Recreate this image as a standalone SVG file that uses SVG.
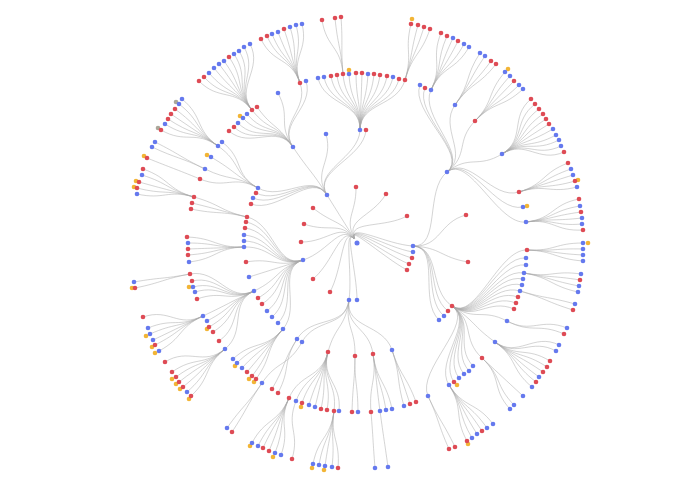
<svg xmlns="http://www.w3.org/2000/svg" width="695" height="494" viewBox="0 0 695 494">
<style>
#links path{fill:none;stroke:#a8a8a8;stroke-opacity:.55;stroke-width:.9}
circle{stroke:none}
.r{fill:#de4b55}.b{fill:#6579ee}.y{fill:#f2b536}.g{fill:#aba89a}
</style>
<rect width="695" height="494" fill="#fff"/>
<g id="links">
<path d="M357,243C342,219 356.5,215 356,187"/><path d="M357,243C342,219 371.5,218.5 386,194"/><path d="M357,243C342,219 382,229.5 407,216"/><path d="M357,243C342,219 335,225.5 313,208"/><path d="M357,243C342,219 330.5,233.5 304,224"/><path d="M357,243C342,219 329,242.5 301,242"/><path d="M357,243C342,219 335,261 313,279"/><path d="M357,243C342,219 343.5,267.5 330,292"/><path d="M357,243C342,219 353,271.5 349,300"/><path d="M357,243C342,219 357,271.5 357,300"/><path d="M357,243C342,219 385,244.5 413,246"/><path d="M357,243C342,219 385,247.5 413,252"/><path d="M357,243C342,219 384.5,250.5 412,258"/><path d="M357,243C342,219 383,253.5 409,264"/><path d="M357,243C342,219 382,256.5 407,270"/><path d="M357,243C342,219 330,251.5 303,260"/><path d="M357,243C342,219 342,219 327,195"/>
<path d="M327,195C312,171 359,158 360,130"/><path d="M327,195C312,171 363.8,158.3 366,130"/><path d="M327,195C312,171 333.8,161.3 326,134"/><path d="M327,195C312,171 309,171 293,147"/><path d="M327,195C312,171 282.8,201.8 258,188"/><path d="M327,195C312,171 281.3,205.5 256,193"/><path d="M327,195C312,171 279,209.3 253,198"/><path d="M327,195C312,171 277.5,213.8 251,204"/>
<path d="M303,260C276,268.5 274.5,223.5 247,217"/><path d="M303,260C276,268.5 273.8,227.3 246,222"/><path d="M303,260C276,268.5 273,231.8 245,228"/><path d="M303,260C276,268.5 272.3,237 244,235"/><path d="M303,260C276,268.5 272.3,241.5 244,241"/><path d="M303,260C276,268.5 272.3,246 244,247"/><path d="M303,260C276,268.5 273.8,257.3 246,262"/><path d="M303,260C276,268.5 276,268.5 249,277"/><path d="M303,260C276,268.5 279.8,279 254,291"/><path d="M303,260C276,268.5 282.8,284.3 258,298"/><path d="M303,260C276,268.5 285.8,288.8 262,304"/><path d="M303,260C276,268.5 289.5,294 267,311"/><path d="M303,260C276,268.5 293.3,298.5 272,317"/><path d="M303,260C276,268.5 297.8,303 278,323"/><path d="M303,260C276,268.5 301.5,307.5 283,329"/>
<path d="M413,246C441,247.5 424.5,189.8 447,172"/><path d="M413,246C441,247.5 438.8,222 466,215"/><path d="M413,246C441,247.5 440.3,257.3 468,262"/><path d="M413,246C441,247.5 428.3,290.3 452,306"/><path d="M413,246C441,247.5 425.3,294 448,311"/><path d="M413,246C441,247.5 422.3,297.8 444,316"/><path d="M413,246C441,247.5 418.5,300.8 439,320"/>
<path d="M349,300C345,328.5 312,315 297,339"/><path d="M349,300C345,328.5 315.8,317.3 302,342"/><path d="M349,300C345,328.5 335.3,324.8 328,352"/><path d="M349,300C345,328.5 355.5,327.8 355,356"/><path d="M349,300C345,328.5 369,326.3 373,354"/><path d="M349,300C345,328.5 383.3,323.3 392,350"/>
<path d="M360,130C360.8,101.8 324.5,105.5 318,78"/><path d="M360,130C360.8,101.8 329.5,104.7 324,77"/><path d="M360,130C360.8,101.8 335.3,103.8 331,76"/><path d="M360,130C360.8,101.8 340.3,103 337,75"/><path d="M360,130C360.8,101.8 345.3,102.2 343,74"/><path d="M360,130C360.8,101.8 350.3,102.2 349,74"/><path d="M360,130C360.8,101.8 356.2,101.3 356,73"/><path d="M360,130C360.8,101.8 361.2,101.3 362,73"/><path d="M360,130C360.8,101.8 366.2,102.2 368,74"/><path d="M360,130C360.8,101.8 371.2,102.2 374,74"/><path d="M360,130C360.8,101.8 376.2,103 380,75"/><path d="M360,130C360.8,101.8 382,103.8 387,76"/><path d="M360,130C360.8,101.8 387,104.7 393,77"/><path d="M360,130C360.8,101.8 392,106.3 399,79"/><path d="M360,130C360.8,101.8 397,107.2 405,80"/>
<path d="M293,147C277,123 250.3,149.7 229,131"/><path d="M293,147C277,123 254.5,146.3 234,127"/><path d="M293,147C277,123 257.8,143 238,123"/><path d="M293,147C277,123 262,138.8 243,118"/><path d="M293,147C277,123 265.3,135.5 247,114"/><path d="M293,147C277,123 269.5,132.2 252,110"/><path d="M293,147C277,123 273.7,129.7 257,107"/><path d="M293,147C277,123 291.2,118 278,93"/><path d="M293,147C277,123 309.5,109.7 300,83"/><path d="M293,147C277,123 314.5,108 306,81"/>
<path d="M258,188C233.3,174.3 241.2,162.2 218,146"/><path d="M258,188C233.3,174.3 244.5,158.8 222,142"/><path d="M258,188C233.3,174.3 235.3,171.3 211,157"/><path d="M258,188C233.3,174.3 230.3,181.3 205,169"/><path d="M258,188C233.3,174.3 226.2,189.7 200,179"/>
<path d="M247,217C219.5,210.5 221.2,204.7 194,197"/><path d="M247,217C219.5,210.5 219.5,209.7 192,203"/><path d="M247,217C219.5,210.5 218.7,214.7 191,209"/>
<path d="M244,247C215.8,248 215.3,238 187,237"/><path d="M244,247C215.8,248 216.2,243 188,243"/><path d="M244,247C215.8,248 216.2,248 188,249"/><path d="M244,247C215.8,248 216.2,253 188,255"/><path d="M244,247C215.8,248 217,258.8 189,262"/>
<path d="M254,291C228.3,303 217.8,268.8 190,274"/><path d="M254,291C228.3,303 219.5,274.7 192,281"/><path d="M254,291C228.3,303 220.3,279.7 193,287"/><path d="M254,291C228.3,303 222,283.8 195,292"/><path d="M254,291C228.3,303 223.7,289.7 197,299"/><path d="M254,291C228.3,303 228.7,303.8 203,316"/><path d="M254,291C228.3,303 232,308 207,321"/><path d="M254,291C228.3,303 233.7,313 209,327"/><path d="M254,291C228.3,303 237,317.2 213,332"/><path d="M254,291C228.3,303 242,324.7 219,341"/><path d="M254,291C228.3,303 247,331.3 225,349"/>
<path d="M283,329C264.5,350.5 253.7,339.7 233,359"/><path d="M283,329C264.5,350.5 257,343 237,363"/><path d="M283,329C264.5,350.5 261.2,347.2 242,368"/><path d="M283,329C264.5,350.5 265.3,350.5 247,372"/><path d="M283,329C264.5,350.5 269.5,353.8 252,376"/><path d="M283,329C264.5,350.5 272.8,356.3 256,379"/>
<path d="M297,339C282,363 286.2,364.7 272,389"/><path d="M297,339C282,363 291.2,368 278,393"/><path d="M302,342C288.3,366.8 277.8,359.7 262,383"/><path d="M262,383C246.2,406.3 243.3,404.9 227,428"/><path d="M262,383C246.2,406.3 247.6,408.4 232,432"/>
<path d="M328,352C320.8,379.3 300.3,372.2 289,398"/><path d="M328,352C320.8,379.3 306.2,374.7 296,401"/><path d="M328,352C320.8,379.3 311.2,376.3 302,403"/><path d="M328,352C320.8,379.3 317,378 309,405"/><path d="M328,352C320.8,379.3 322,379.7 315,407"/><path d="M328,352C320.8,379.3 327,381.3 321,409"/><path d="M328,352C320.8,379.3 332,382.2 327,410"/><path d="M328,352C320.8,379.3 337.8,383 334,411"/><path d="M328,352C320.8,379.3 342,383 339,411"/>
<path d="M355,356C354.5,384.3 352.8,383.8 352,412"/><path d="M355,356C354.5,384.3 357.8,383.8 358,412"/>
<path d="M373,354C377,381.8 368.7,383.8 371,412"/><path d="M373,354C377,381.8 376.2,383 380,411"/><path d="M373,354C377,381.8 381.2,382.2 386,410"/><path d="M373,354C377,381.8 386.2,381.3 392,409"/><path d="M371,412C373.3,440.2 372.8,439.9 375,468"/><path d="M380,411C383.8,439 384.1,439 388,467"/>
<path d="M392,350C400.8,376.8 396.2,378.8 404,406"/><path d="M392,350C400.8,376.8 401.2,377.2 410,404"/><path d="M392,350C400.8,376.8 406.2,375.5 416,402"/>
<path d="M289,398C277.7,423.8 265.1,418 252,443"/><path d="M289,398C277.7,423.8 270.4,420.6 258,446"/><path d="M289,398C277.7,423.8 274.8,422.4 263,448"/><path d="M289,398C277.7,423.8 280,425 269,451"/><path d="M289,398C277.7,423.8 285.3,426.8 275,453"/><path d="M289,398C277.7,423.8 290.5,428.5 281,455"/>
<path d="M296,401C285.8,427.3 300.1,432 292,459"/>
<path d="M334,411C330.2,439 318.5,436.4 313,464"/><path d="M334,411C330.2,439 323.8,437.3 319,465"/><path d="M334,411C330.2,439 329,438.1 325,466"/><path d="M334,411C330.2,439 335.1,439 332,467"/><path d="M334,411C330.2,439 340.4,439.9 338,468"/>
<path d="M194,197C166.8,189.3 169.8,178.3 143,169"/><path d="M194,197C166.8,189.3 168.9,183.5 142,175"/><path d="M194,197C166.8,189.3 166.3,189.6 139,182"/><path d="M194,197C166.8,189.3 164.5,194.9 137,188"/><path d="M194,197C166.8,189.3 164.5,200.1 137,194"/>
<path d="M190,274C162.2,279.2 161.9,277.1 134,282"/><path d="M190,274C162.2,279.2 162.8,282.4 135,288"/>
<path d="M203,316C177.3,328.2 169.8,307.8 143,317"/><path d="M203,316C177.3,328.2 174.1,317.4 148,328"/><path d="M203,316C177.3,328.2 175.9,322.6 150,334"/><path d="M203,316C177.3,328.2 178.5,327.9 153,340"/><path d="M203,316C177.3,328.2 180.3,332.3 155,345"/><path d="M203,316C177.3,328.2 183.8,337.5 159,351"/>
<path d="M225,349C203,366.7 189,347.1 165,362"/><path d="M225,349C203,366.7 195.1,355.9 172,372"/><path d="M225,349C203,366.7 198.6,360.3 176,377"/><path d="M225,349C203,366.7 201.3,364.6 179,382"/><path d="M225,349C203,366.7 204.8,369 183,387"/><path d="M225,349C203,366.7 208.3,373.4 187,392"/><path d="M225,349C203,366.7 211.8,376.9 191,396"/>
<path d="M252,110C234.5,87.8 218.8,101.3 199,81"/><path d="M252,110C234.5,87.8 223.1,97.8 204,77"/><path d="M252,110C234.5,87.8 227.5,94.3 209,73"/><path d="M252,110C234.5,87.8 231.9,89.9 214,68"/><path d="M252,110C234.5,87.8 236.3,86.4 219,64"/><path d="M252,110C234.5,87.8 240.6,83.8 224,61"/><path d="M252,110C234.5,87.8 245,80.3 229,57"/><path d="M252,110C234.5,87.8 249.4,77.6 234,54"/><path d="M252,110C234.5,87.8 253.8,75 239,51"/><path d="M252,110C234.5,87.8 258.1,71.5 244,47"/><path d="M252,110C234.5,87.8 263.4,68.9 250,44"/>
<path d="M300,83C290.5,56.3 273,64.5 261,39"/><path d="M300,83C290.5,56.3 278.3,61.9 267,36"/><path d="M300,83C290.5,56.3 282.6,60.1 272,34"/><path d="M300,83C290.5,56.3 287.9,58.4 278,32"/><path d="M300,83C290.5,56.3 293.1,55.8 284,29"/><path d="M300,83C290.5,56.3 298.4,54 290,27"/><path d="M300,83C290.5,56.3 303.6,52.3 296,25"/><path d="M300,83C290.5,56.3 308.9,51.4 302,24"/>
<path d="M218,146C194.8,129.8 203.9,117 182,99"/><path d="M218,146C194.8,129.8 201.3,121.4 179,104"/><path d="M218,146C194.8,129.8 197.8,125.8 175,109"/><path d="M218,146C194.8,129.8 194.3,130.1 171,114"/><path d="M218,146C194.8,129.8 191.6,134.5 168,119"/><path d="M218,146C194.8,129.8 189,138.9 165,124"/><path d="M218,146C194.8,129.8 185.5,144.1 161,130"/>
<path d="M205,169C179.7,156.7 180.3,154.6 155,142"/><path d="M205,169C179.7,156.7 177.6,159 152,147"/><path d="M200,179C173.8,168.3 173.3,168.6 147,158"/>
<path d="M343,74C340.7,45.8 326.4,47.9 322,20"/><path d="M343,74C340.7,45.8 337.8,46.1 335,18"/><path d="M343,74C340.7,45.8 343,45.3 341,17"/>
<path d="M405,80C413,52.8 404.3,51.4 411,24"/><path d="M405,80C413,52.8 410.4,52.3 418,25"/><path d="M405,80C413,52.8 415.6,54 424,27"/><path d="M405,80C413,52.8 420.9,55.8 430,29"/>
<path d="M447,172C469.5,154.3 409.5,111.3 420,85"/><path d="M447,172C469.5,154.3 413.7,113.8 425,88"/><path d="M447,172C469.5,154.3 418.7,115.5 431,90"/><path d="M447,172C469.5,154.3 438.7,128 455,105"/><path d="M447,172C469.5,154.3 455.3,141.3 475,121"/><path d="M447,172C469.5,154.3 477.8,168.8 502,154"/><path d="M447,172C469.5,154.3 492,200.5 519,192"/><path d="M447,172C469.5,154.3 495.3,213 523,207"/><path d="M447,172C469.5,154.3 497.8,225.5 526,222"/>
<path d="M431,90C443.3,64.5 430.5,59.3 441,33"/><path d="M431,90C443.3,64.5 435.8,61.9 447,36"/><path d="M431,90C443.3,64.5 441,63.6 453,38"/><path d="M431,90C443.3,64.5 445.4,66.3 458,41"/><path d="M431,90C443.3,64.5 450.6,68.9 464,44"/><path d="M431,90C443.3,64.5 455,71.5 469,47"/>
<path d="M455,105C471.3,82 464.6,76.8 480,53"/><path d="M455,105C471.3,82 469,79.4 485,56"/><path d="M455,105C471.3,82 474.3,83.8 491,61"/><path d="M455,105C471.3,82 478.6,86.4 496,64"/>
<path d="M475,121C494.7,100.7 486.5,93.4 505,72"/><path d="M475,121C494.7,100.7 490.9,96.9 510,76"/><path d="M475,121C494.7,100.7 494.4,101.3 514,81"/><path d="M475,121C494.7,100.7 498.8,104.8 519,85"/><path d="M475,121C494.7,100.7 502.3,108.3 523,89"/>
<path d="M502,154C526.2,139.2 509.3,117 531,99"/><path d="M502,154C526.2,139.2 512.8,121.4 535,104"/><path d="M502,154C526.2,139.2 516.3,125.8 539,109"/><path d="M502,154C526.2,139.2 519.8,130.1 543,114"/><path d="M502,154C526.2,139.2 522.4,134.5 546,119"/><path d="M502,154C526.2,139.2 525,138.9 549,124"/><path d="M502,154C526.2,139.2 528.5,143.3 553,129"/><path d="M502,154C526.2,139.2 531.1,148.5 556,135"/><path d="M502,154C526.2,139.2 533.8,152.9 559,140"/><path d="M502,154C526.2,139.2 535.5,158.1 561,146"/><path d="M502,154C526.2,139.2 538.1,163.4 564,152"/>
<path d="M519,192C546,183.5 541.6,173 568,163"/><path d="M519,192C546,183.5 544.3,178.3 571,169"/><path d="M519,192C546,183.5 546,183.5 573,175"/><path d="M519,192C546,183.5 547.8,188.8 575,181"/><path d="M519,192C546,183.5 549.5,194 577,187"/>
<path d="M526,222C554.2,218.5 551.3,204.5 579,199"/><path d="M526,222C554.2,218.5 552.1,210.6 580,206"/><path d="M526,222C554.2,218.5 553,215.9 581,212"/><path d="M526,222C554.2,218.5 553.9,221.1 582,218"/><path d="M526,222C554.2,218.5 553.9,226.4 582,224"/><path d="M526,222C554.2,218.5 554.8,231.6 583,230"/>
<path d="M452,306C475.8,321.8 498.7,248.8 527,250"/><path d="M452,306C475.8,321.8 497.8,255.5 526,258"/><path d="M452,306C475.8,321.8 497.8,261.3 526,265"/><path d="M452,306C475.8,321.8 496.2,268 524,273"/><path d="M452,306C475.8,321.8 495.3,273 523,279"/><path d="M452,306C475.8,321.8 494.5,278 522,285"/><path d="M452,306C475.8,321.8 492.8,283 520,291"/><path d="M452,306C475.8,321.8 491.2,288 518,297"/><path d="M452,306C475.8,321.8 489.5,293 516,303"/><path d="M452,306C475.8,321.8 487.8,298 514,309"/><path d="M452,306C475.8,321.8 482,308 507,321"/><path d="M452,306C475.8,321.8 472,325.5 495,342"/><path d="M452,306C475.8,321.8 461.2,338.8 482,358"/><path d="M452,306C475.8,321.8 453.7,345.5 473,366"/><path d="M452,306C475.8,321.8 450.3,349.7 469,371"/><path d="M452,306C475.8,321.8 446.2,352.2 464,374"/><path d="M452,306C475.8,321.8 442,355.5 459,378"/><path d="M452,306C475.8,321.8 437.8,358.8 454,382"/><path d="M452,306C475.8,321.8 433.7,361.3 449,385"/><path d="M452,306C475.8,321.8 416.2,370.5 428,396"/>
<path d="M527,250C555.3,251.2 554.8,243 583,243"/><path d="M527,250C555.3,251.2 554.8,248.3 583,249"/><path d="M527,250C555.3,251.2 554.8,253.5 583,255"/><path d="M527,250C555.3,251.2 554.8,258.8 583,261"/>
<path d="M524,273C551.8,278 553,270.1 581,274"/><path d="M524,273C551.8,278 552.1,275.4 580,280"/><path d="M524,273C551.8,278 551.3,280.6 579,286"/><path d="M524,273C551.8,278 550.4,285.9 578,292"/>
<path d="M520,291C547.2,299 547.8,296.4 575,304"/><path d="M520,291C547.2,299 546,301.6 573,310"/>
<path d="M507,321C532,334 540.8,317.4 567,328"/><path d="M507,321C532,334 538.1,322.6 564,334"/>
<path d="M495,342C518,358.5 533.8,332.3 559,345"/><path d="M495,342C518,358.5 531.1,337.5 556,351"/><path d="M495,342C518,358.5 525.9,346.3 550,361"/><path d="M495,342C518,358.5 523.3,351.5 547,367"/><path d="M495,342C518,358.5 519.8,355.9 543,372"/><path d="M495,342C518,358.5 516.3,360.3 539,377"/><path d="M495,342C518,358.5 513.6,364.6 536,382"/><path d="M495,342C518,358.5 510.1,369 532,387"/>
<path d="M482,358C502.8,377.2 502.3,376.9 523,396"/><path d="M482,358C502.8,377.2 494.4,384.8 514,405"/><path d="M482,358C502.8,377.2 490.9,388.3 510,409"/>
<path d="M449,385C464.3,408.7 453.3,416.3 467,441"/><path d="M449,385C464.3,408.7 457.6,413.6 472,438"/><path d="M449,385C464.3,408.7 462,410.1 477,434"/><path d="M449,385C464.3,408.7 466.4,407.5 482,431"/><path d="M449,385C464.3,408.7 470.8,404.9 487,428"/><path d="M449,385C464.3,408.7 476,401.4 493,424"/>
<path d="M428,396C439.8,421.5 437.5,423.3 449,449"/><path d="M428,396C439.8,421.5 442.8,421.5 455,447"/>
</g>
<g id="nodes">
<g id="y1"><circle class="y" cx="412" cy="19" r="2.3"/></g><g id="y2"><circle class="y" cx="349" cy="70" r="2.3"/></g><g id="y3"><circle class="y" cx="240" cy="116" r="2.3"/></g><g id="y4"><circle class="y" cx="207" cy="155" r="2.3"/></g><g id="y5"><circle class="y" cx="144" cy="156" r="2.3"/></g><g id="y6"><circle class="y" cx="136" cy="181" r="2.3"/></g><g id="y7"><circle class="y" cx="134" cy="187" r="2.3"/></g><g id="y8"><circle class="y" cx="132" cy="288" r="2.3"/></g><g id="y9"><circle class="y" cx="189" cy="287" r="2.3"/></g><g id="y10"><circle class="y" cx="207" cy="329" r="2.3"/></g><g id="y11"><circle class="y" cx="146" cy="336" r="2.3"/></g><g id="y12"><circle class="y" cx="152" cy="347" r="2.3"/></g><g id="y13"><circle class="y" cx="155" cy="353" r="2.3"/></g><g id="y14"><circle class="y" cx="172" cy="379" r="2.3"/></g><g id="y15"><circle class="y" cx="176" cy="384" r="2.3"/></g><g id="y16"><circle class="y" cx="180" cy="389" r="2.3"/></g><g id="y17"><circle class="y" cx="189" cy="399" r="2.3"/></g><g id="y18"><circle class="y" cx="235" cy="366" r="2.3"/></g><g id="y19"><circle class="y" cx="249" cy="379" r="2.3"/></g><g id="y20"><circle class="y" cx="254" cy="382" r="2.3"/></g><g id="y21"><circle class="y" cx="301" cy="407" r="2.3"/></g><g id="y22"><circle class="y" cx="250" cy="446" r="2.3"/></g><g id="y23"><circle class="y" cx="273" cy="457" r="2.3"/></g><g id="y24"><circle class="y" cx="312" cy="468" r="2.3"/></g><g id="y25"><circle class="y" cx="324" cy="470" r="2.3"/></g><g id="y26"><circle class="y" cx="508" cy="69" r="2.3"/></g><g id="y27"><circle class="y" cx="527" cy="206" r="2.3"/></g><g id="y28"><circle class="y" cx="578" cy="180" r="2.3"/></g><g id="y29"><circle class="y" cx="588" cy="243" r="2.3"/></g><g id="y30"><circle class="y" cx="457" cy="385" r="2.3"/></g><g id="y31"><circle class="y" cx="468" cy="444" r="2.3"/></g>
<g id="g1"><circle class="g" cx="176" cy="102" r="2.3"/></g><g id="g2"><circle class="g" cx="158" cy="128" r="2.3"/></g>
<g id="r1"><circle class="r" cx="356" cy="187" r="2.3"/></g><g id="r2"><circle class="r" cx="386" cy="194" r="2.3"/></g><g id="r3"><circle class="r" cx="407" cy="216" r="2.3"/></g><g id="r4"><circle class="r" cx="313" cy="208" r="2.3"/></g><g id="r5"><circle class="r" cx="304" cy="224" r="2.3"/></g><g id="r6"><circle class="r" cx="301" cy="242" r="2.3"/></g><g id="r7"><circle class="r" cx="313" cy="279" r="2.3"/></g><g id="r8"><circle class="r" cx="330" cy="292" r="2.3"/></g><g id="r9"><circle class="r" cx="412" cy="258" r="2.3"/></g><g id="r10"><circle class="r" cx="409" cy="264" r="2.3"/></g><g id="r11"><circle class="r" cx="407" cy="270" r="2.3"/></g>
<g id="r12"><circle class="r" cx="366" cy="130" r="2.3"/></g><g id="r13"><circle class="r" cx="251" cy="204" r="2.3"/></g><g id="r14"><circle class="r" cx="256" cy="193" r="2.3"/></g><g id="r15"><circle class="r" cx="247" cy="217" r="2.3"/></g><g id="r16"><circle class="r" cx="246" cy="222" r="2.3"/></g><g id="r17"><circle class="r" cx="245" cy="228" r="2.3"/></g><g id="r18"><circle class="r" cx="246" cy="262" r="2.3"/></g><g id="r19"><circle class="r" cx="258" cy="298" r="2.3"/></g><g id="r20"><circle class="r" cx="262" cy="304" r="2.3"/></g><g id="r21"><circle class="r" cx="466" cy="215" r="2.3"/></g><g id="r22"><circle class="r" cx="468" cy="262" r="2.3"/></g><g id="r23"><circle class="r" cx="452" cy="306" r="2.3"/></g><g id="r24"><circle class="r" cx="448" cy="311" r="2.3"/></g><g id="r25"><circle class="r" cx="328" cy="352" r="2.3"/></g><g id="r26"><circle class="r" cx="355" cy="356" r="2.3"/></g><g id="r27"><circle class="r" cx="373" cy="354" r="2.3"/></g>
<g id="r28"><circle class="r" cx="331" cy="76" r="2.3"/></g><g id="r29"><circle class="r" cx="337" cy="75" r="2.3"/></g><g id="r30"><circle class="r" cx="343" cy="74" r="2.3"/></g><g id="r31"><circle class="r" cx="356" cy="73" r="2.3"/></g><g id="r32"><circle class="r" cx="362" cy="73" r="2.3"/></g><g id="r33"><circle class="r" cx="374" cy="74" r="2.3"/></g><g id="r34"><circle class="r" cx="380" cy="75" r="2.3"/></g><g id="r35"><circle class="r" cx="387" cy="76" r="2.3"/></g><g id="r36"><circle class="r" cx="399" cy="79" r="2.3"/></g><g id="r37"><circle class="r" cx="405" cy="80" r="2.3"/></g>
<g id="r38"><circle class="r" cx="229" cy="131" r="2.3"/></g><g id="r39"><circle class="r" cx="234" cy="127" r="2.3"/></g><g id="r40"><circle class="r" cx="252" cy="110" r="2.3"/></g><g id="r41"><circle class="r" cx="257" cy="107" r="2.3"/></g><g id="r42"><circle class="r" cx="300" cy="83" r="2.3"/></g><g id="r43"><circle class="r" cx="200" cy="179" r="2.3"/></g><g id="r44"><circle class="r" cx="194" cy="197" r="2.3"/></g><g id="r45"><circle class="r" cx="192" cy="203" r="2.3"/></g><g id="r46"><circle class="r" cx="191" cy="209" r="2.3"/></g><g id="r47"><circle class="r" cx="187" cy="237" r="2.3"/></g><g id="r48"><circle class="r" cx="188" cy="249" r="2.3"/></g><g id="r49"><circle class="r" cx="188" cy="255" r="2.3"/></g>
<g id="r50"><circle class="r" cx="190" cy="274" r="2.3"/></g><g id="r51"><circle class="r" cx="192" cy="281" r="2.3"/></g><g id="r52"><circle class="r" cx="197" cy="299" r="2.3"/></g><g id="r53"><circle class="r" cx="209" cy="327" r="2.3"/></g><g id="r54"><circle class="r" cx="213" cy="332" r="2.3"/></g><g id="r55"><circle class="r" cx="219" cy="341" r="2.3"/></g><g id="r56"><circle class="r" cx="247" cy="372" r="2.3"/></g><g id="r57"><circle class="r" cx="252" cy="376" r="2.3"/></g><g id="r58"><circle class="r" cx="256" cy="379" r="2.3"/></g><g id="r59"><circle class="r" cx="272" cy="389" r="2.3"/></g><g id="r60"><circle class="r" cx="278" cy="393" r="2.3"/></g>
<g id="r61"><circle class="r" cx="289" cy="398" r="2.3"/></g><g id="r62"><circle class="r" cx="302" cy="403" r="2.3"/></g><g id="r63"><circle class="r" cx="321" cy="409" r="2.3"/></g><g id="r64"><circle class="r" cx="327" cy="410" r="2.3"/></g><g id="r65"><circle class="r" cx="334" cy="411" r="2.3"/></g><g id="r66"><circle class="r" cx="352" cy="412" r="2.3"/></g><g id="r67"><circle class="r" cx="371" cy="412" r="2.3"/></g><g id="r68"><circle class="r" cx="410" cy="404" r="2.3"/></g><g id="r69"><circle class="r" cx="416" cy="402" r="2.3"/></g><g id="r70"><circle class="r" cx="232" cy="432" r="2.3"/></g>
<g id="r71"><circle class="r" cx="263" cy="448" r="2.3"/></g><g id="r72"><circle class="r" cx="269" cy="451" r="2.3"/></g><g id="r73"><circle class="r" cx="292" cy="459" r="2.3"/></g><g id="r74"><circle class="r" cx="338" cy="468" r="2.3"/></g><g id="r75"><circle class="r" cx="143" cy="169" r="2.3"/></g><g id="r76"><circle class="r" cx="139" cy="182" r="2.3"/></g><g id="r77"><circle class="r" cx="137" cy="188" r="2.3"/></g><g id="r78"><circle class="r" cx="135" cy="288" r="2.3"/></g><g id="r79"><circle class="r" cx="143" cy="317" r="2.3"/></g><g id="r80"><circle class="r" cx="155" cy="345" r="2.3"/></g>
<g id="r81"><circle class="r" cx="165" cy="362" r="2.3"/></g><g id="r82"><circle class="r" cx="172" cy="372" r="2.3"/></g><g id="r83"><circle class="r" cx="176" cy="377" r="2.3"/></g><g id="r84"><circle class="r" cx="179" cy="382" r="2.3"/></g><g id="r85"><circle class="r" cx="183" cy="387" r="2.3"/></g><g id="r86"><circle class="r" cx="191" cy="396" r="2.3"/></g><g id="r87"><circle class="r" cx="199" cy="81" r="2.3"/></g><g id="r88"><circle class="r" cx="204" cy="77" r="2.3"/></g><g id="r89"><circle class="r" cx="229" cy="57" r="2.3"/></g><g id="r90"><circle class="r" cx="261" cy="39" r="2.3"/></g><g id="r91"><circle class="r" cx="267" cy="36" r="2.3"/></g><g id="r92"><circle class="r" cx="284" cy="29" r="2.3"/></g>
<g id="r93"><circle class="r" cx="175" cy="109" r="2.3"/></g><g id="r94"><circle class="r" cx="171" cy="114" r="2.3"/></g><g id="r95"><circle class="r" cx="168" cy="119" r="2.3"/></g><g id="r96"><circle class="r" cx="161" cy="130" r="2.3"/></g><g id="r97"><circle class="r" cx="147" cy="158" r="2.3"/></g><g id="r98"><circle class="r" cx="322" cy="20" r="2.3"/></g><g id="r99"><circle class="r" cx="335" cy="18" r="2.3"/></g><g id="r100"><circle class="r" cx="341" cy="17" r="2.3"/></g><g id="r101"><circle class="r" cx="411" cy="24" r="2.3"/></g><g id="r102"><circle class="r" cx="418" cy="25" r="2.3"/></g><g id="r103"><circle class="r" cx="424" cy="27" r="2.3"/></g><g id="r104"><circle class="r" cx="430" cy="29" r="2.3"/></g>
<g id="r105"><circle class="r" cx="425" cy="88" r="2.3"/></g><g id="r106"><circle class="r" cx="475" cy="121" r="2.3"/></g><g id="r107"><circle class="r" cx="519" cy="192" r="2.3"/></g><g id="r108"><circle class="r" cx="441" cy="33" r="2.3"/></g><g id="r109"><circle class="r" cx="447" cy="36" r="2.3"/></g><g id="r110"><circle class="r" cx="458" cy="41" r="2.3"/></g><g id="r111"><circle class="r" cx="491" cy="61" r="2.3"/></g><g id="r112"><circle class="r" cx="496" cy="64" r="2.3"/></g><g id="r113"><circle class="r" cx="514" cy="81" r="2.3"/></g>
<g id="r114"><circle class="r" cx="531" cy="99" r="2.3"/></g><g id="r115"><circle class="r" cx="535" cy="104" r="2.3"/></g><g id="r116"><circle class="r" cx="539" cy="109" r="2.3"/></g><g id="r117"><circle class="r" cx="543" cy="114" r="2.3"/></g><g id="r118"><circle class="r" cx="546" cy="119" r="2.3"/></g><g id="r119"><circle class="r" cx="549" cy="124" r="2.3"/></g><g id="r120"><circle class="r" cx="564" cy="152" r="2.3"/></g><g id="r121"><circle class="r" cx="568" cy="163" r="2.3"/></g><g id="r122"><circle class="r" cx="575" cy="181" r="2.3"/></g><g id="r123"><circle class="r" cx="579" cy="199" r="2.3"/></g><g id="r124"><circle class="r" cx="581" cy="212" r="2.3"/></g><g id="r125"><circle class="r" cx="583" cy="230" r="2.3"/></g>
<g id="r126"><circle class="r" cx="527" cy="250" r="2.3"/></g><g id="r127"><circle class="r" cx="518" cy="297" r="2.3"/></g><g id="r128"><circle class="r" cx="516" cy="303" r="2.3"/></g><g id="r129"><circle class="r" cx="514" cy="309" r="2.3"/></g><g id="r130"><circle class="r" cx="482" cy="358" r="2.3"/></g><g id="r131"><circle class="r" cx="454" cy="382" r="2.3"/></g><g id="r132"><circle class="r" cx="580" cy="280" r="2.3"/></g><g id="r133"><circle class="r" cx="573" cy="310" r="2.3"/></g><g id="r134"><circle class="r" cx="564" cy="334" r="2.3"/></g><g id="r135"><circle class="r" cx="550" cy="361" r="2.3"/></g><g id="r136"><circle class="r" cx="547" cy="367" r="2.3"/></g><g id="r137"><circle class="r" cx="543" cy="372" r="2.3"/></g><g id="r138"><circle class="r" cx="536" cy="382" r="2.3"/></g><g id="r139"><circle class="r" cx="467" cy="441" r="2.3"/></g><g id="r140"><circle class="r" cx="482" cy="431" r="2.3"/></g><g id="r141"><circle class="r" cx="449" cy="449" r="2.3"/></g><g id="r142"><circle class="r" cx="455" cy="447" r="2.3"/></g>
<g id="b1"><circle class="b" cx="349" cy="300" r="2.3"/></g><g id="b2"><circle class="b" cx="357" cy="300" r="2.3"/></g><g id="b3"><circle class="b" cx="413" cy="246" r="2.3"/></g><g id="b4"><circle class="b" cx="413" cy="252" r="2.3"/></g><g id="b5"><circle class="b" cx="303" cy="260" r="2.3"/></g><g id="b6"><circle class="b" cx="327" cy="195" r="2.3"/></g><g id="b7"><circle class="b" cx="360" cy="130" r="2.3"/></g><g id="b8"><circle class="b" cx="326" cy="134" r="2.3"/></g><g id="b9"><circle class="b" cx="293" cy="147" r="2.3"/></g><g id="b10"><circle class="b" cx="258" cy="188" r="2.3"/></g><g id="b11"><circle class="b" cx="253" cy="198" r="2.3"/></g>
<g id="b12"><circle class="b" cx="244" cy="235" r="2.3"/></g><g id="b13"><circle class="b" cx="244" cy="241" r="2.3"/></g><g id="b14"><circle class="b" cx="244" cy="247" r="2.3"/></g><g id="b15"><circle class="b" cx="249" cy="277" r="2.3"/></g><g id="b16"><circle class="b" cx="254" cy="291" r="2.3"/></g><g id="b17"><circle class="b" cx="267" cy="311" r="2.3"/></g><g id="b18"><circle class="b" cx="272" cy="317" r="2.3"/></g><g id="b19"><circle class="b" cx="278" cy="323" r="2.3"/></g><g id="b20"><circle class="b" cx="283" cy="329" r="2.3"/></g><g id="b21"><circle class="b" cx="447" cy="172" r="2.3"/></g><g id="b22"><circle class="b" cx="444" cy="316" r="2.3"/></g><g id="b23"><circle class="b" cx="439" cy="320" r="2.3"/></g><g id="b24"><circle class="b" cx="297" cy="339" r="2.3"/></g><g id="b25"><circle class="b" cx="302" cy="342" r="2.3"/></g><g id="b26"><circle class="b" cx="392" cy="350" r="2.3"/></g>
<g id="b27"><circle class="b" cx="318" cy="78" r="2.3"/></g><g id="b28"><circle class="b" cx="324" cy="77" r="2.3"/></g><g id="b29"><circle class="b" cx="349" cy="74" r="2.3"/></g><g id="b30"><circle class="b" cx="368" cy="74" r="2.3"/></g><g id="b31"><circle class="b" cx="393" cy="77" r="2.3"/></g><g id="b32"><circle class="b" cx="238" cy="123" r="2.3"/></g><g id="b33"><circle class="b" cx="243" cy="118" r="2.3"/></g><g id="b34"><circle class="b" cx="247" cy="114" r="2.3"/></g><g id="b35"><circle class="b" cx="278" cy="93" r="2.3"/></g><g id="b36"><circle class="b" cx="306" cy="81" r="2.3"/></g><g id="b37"><circle class="b" cx="218" cy="146" r="2.3"/></g><g id="b38"><circle class="b" cx="222" cy="142" r="2.3"/></g><g id="b39"><circle class="b" cx="211" cy="157" r="2.3"/></g><g id="b40"><circle class="b" cx="205" cy="169" r="2.3"/></g>
<g id="b41"><circle class="b" cx="188" cy="243" r="2.3"/></g><g id="b42"><circle class="b" cx="189" cy="262" r="2.3"/></g><g id="b43"><circle class="b" cx="193" cy="287" r="2.3"/></g><g id="b44"><circle class="b" cx="195" cy="292" r="2.3"/></g><g id="b45"><circle class="b" cx="203" cy="316" r="2.3"/></g><g id="b46"><circle class="b" cx="207" cy="321" r="2.3"/></g><g id="b47"><circle class="b" cx="225" cy="349" r="2.3"/></g><g id="b48"><circle class="b" cx="233" cy="359" r="2.3"/></g><g id="b49"><circle class="b" cx="237" cy="363" r="2.3"/></g><g id="b50"><circle class="b" cx="242" cy="368" r="2.3"/></g><g id="b51"><circle class="b" cx="262" cy="383" r="2.3"/></g>
<g id="b52"><circle class="b" cx="296" cy="401" r="2.3"/></g><g id="b53"><circle class="b" cx="309" cy="405" r="2.3"/></g><g id="b54"><circle class="b" cx="315" cy="407" r="2.3"/></g><g id="b55"><circle class="b" cx="339" cy="411" r="2.3"/></g><g id="b56"><circle class="b" cx="358" cy="412" r="2.3"/></g><g id="b57"><circle class="b" cx="380" cy="411" r="2.3"/></g><g id="b58"><circle class="b" cx="386" cy="410" r="2.3"/></g><g id="b59"><circle class="b" cx="392" cy="409" r="2.3"/></g><g id="b60"><circle class="b" cx="375" cy="468" r="2.3"/></g><g id="b61"><circle class="b" cx="388" cy="467" r="2.3"/></g><g id="b62"><circle class="b" cx="404" cy="406" r="2.3"/></g><g id="b63"><circle class="b" cx="227" cy="428" r="2.3"/></g>
<g id="b64"><circle class="b" cx="252" cy="443" r="2.3"/></g><g id="b65"><circle class="b" cx="258" cy="446" r="2.3"/></g><g id="b66"><circle class="b" cx="275" cy="453" r="2.3"/></g><g id="b67"><circle class="b" cx="281" cy="455" r="2.3"/></g><g id="b68"><circle class="b" cx="313" cy="464" r="2.3"/></g><g id="b69"><circle class="b" cx="319" cy="465" r="2.3"/></g><g id="b70"><circle class="b" cx="325" cy="466" r="2.3"/></g><g id="b71"><circle class="b" cx="332" cy="467" r="2.3"/></g><g id="b72"><circle class="b" cx="142" cy="175" r="2.3"/></g><g id="b73"><circle class="b" cx="137" cy="194" r="2.3"/></g><g id="b74"><circle class="b" cx="134" cy="282" r="2.3"/></g>
<g id="b75"><circle class="b" cx="148" cy="328" r="2.3"/></g><g id="b76"><circle class="b" cx="150" cy="334" r="2.3"/></g><g id="b77"><circle class="b" cx="153" cy="340" r="2.3"/></g><g id="b78"><circle class="b" cx="159" cy="351" r="2.3"/></g><g id="b79"><circle class="b" cx="187" cy="392" r="2.3"/></g><g id="b80"><circle class="b" cx="209" cy="73" r="2.3"/></g><g id="b81"><circle class="b" cx="214" cy="68" r="2.3"/></g><g id="b82"><circle class="b" cx="219" cy="64" r="2.3"/></g><g id="b83"><circle class="b" cx="224" cy="61" r="2.3"/></g><g id="b84"><circle class="b" cx="234" cy="54" r="2.3"/></g><g id="b85"><circle class="b" cx="239" cy="51" r="2.3"/></g><g id="b86"><circle class="b" cx="244" cy="47" r="2.3"/></g><g id="b87"><circle class="b" cx="250" cy="44" r="2.3"/></g>
<g id="b88"><circle class="b" cx="272" cy="34" r="2.3"/></g><g id="b89"><circle class="b" cx="278" cy="32" r="2.3"/></g><g id="b90"><circle class="b" cx="290" cy="27" r="2.3"/></g><g id="b91"><circle class="b" cx="296" cy="25" r="2.3"/></g><g id="b92"><circle class="b" cx="302" cy="24" r="2.3"/></g><g id="b93"><circle class="b" cx="182" cy="99" r="2.3"/></g><g id="b94"><circle class="b" cx="179" cy="104" r="2.3"/></g><g id="b95"><circle class="b" cx="165" cy="124" r="2.3"/></g><g id="b96"><circle class="b" cx="155" cy="142" r="2.3"/></g><g id="b97"><circle class="b" cx="152" cy="147" r="2.3"/></g>
<g id="b98"><circle class="b" cx="420" cy="85" r="2.3"/></g><g id="b99"><circle class="b" cx="431" cy="90" r="2.3"/></g><g id="b100"><circle class="b" cx="455" cy="105" r="2.3"/></g><g id="b101"><circle class="b" cx="502" cy="154" r="2.3"/></g><g id="b102"><circle class="b" cx="523" cy="207" r="2.3"/></g><g id="b103"><circle class="b" cx="526" cy="222" r="2.3"/></g><g id="b104"><circle class="b" cx="453" cy="38" r="2.3"/></g><g id="b105"><circle class="b" cx="464" cy="44" r="2.3"/></g><g id="b106"><circle class="b" cx="469" cy="47" r="2.3"/></g><g id="b107"><circle class="b" cx="480" cy="53" r="2.3"/></g><g id="b108"><circle class="b" cx="485" cy="56" r="2.3"/></g>
<g id="b109"><circle class="b" cx="505" cy="72" r="2.3"/></g><g id="b110"><circle class="b" cx="510" cy="76" r="2.3"/></g><g id="b111"><circle class="b" cx="519" cy="85" r="2.3"/></g><g id="b112"><circle class="b" cx="523" cy="89" r="2.3"/></g><g id="b113"><circle class="b" cx="553" cy="129" r="2.3"/></g><g id="b114"><circle class="b" cx="556" cy="135" r="2.3"/></g><g id="b115"><circle class="b" cx="559" cy="140" r="2.3"/></g><g id="b116"><circle class="b" cx="561" cy="146" r="2.3"/></g><g id="b117"><circle class="b" cx="571" cy="169" r="2.3"/></g><g id="b118"><circle class="b" cx="573" cy="175" r="2.3"/></g><g id="b119"><circle class="b" cx="577" cy="187" r="2.3"/></g><g id="b120"><circle class="b" cx="580" cy="206" r="2.3"/></g><g id="b121"><circle class="b" cx="582" cy="218" r="2.3"/></g><g id="b122"><circle class="b" cx="582" cy="224" r="2.3"/></g>
<g id="b123"><circle class="b" cx="526" cy="258" r="2.3"/></g><g id="b124"><circle class="b" cx="526" cy="265" r="2.3"/></g><g id="b125"><circle class="b" cx="524" cy="273" r="2.3"/></g><g id="b126"><circle class="b" cx="523" cy="279" r="2.3"/></g><g id="b127"><circle class="b" cx="522" cy="285" r="2.3"/></g><g id="b128"><circle class="b" cx="520" cy="291" r="2.3"/></g><g id="b129"><circle class="b" cx="507" cy="321" r="2.3"/></g><g id="b130"><circle class="b" cx="495" cy="342" r="2.3"/></g><g id="b131"><circle class="b" cx="473" cy="366" r="2.3"/></g><g id="b132"><circle class="b" cx="469" cy="371" r="2.3"/></g><g id="b133"><circle class="b" cx="464" cy="374" r="2.3"/></g><g id="b134"><circle class="b" cx="459" cy="378" r="2.3"/></g><g id="b135"><circle class="b" cx="449" cy="385" r="2.3"/></g><g id="b136"><circle class="b" cx="428" cy="396" r="2.3"/></g>
<g id="b137"><circle class="b" cx="583" cy="243" r="2.3"/></g><g id="b138"><circle class="b" cx="583" cy="249" r="2.3"/></g><g id="b139"><circle class="b" cx="583" cy="255" r="2.3"/></g><g id="b140"><circle class="b" cx="583" cy="261" r="2.3"/></g><g id="b141"><circle class="b" cx="581" cy="274" r="2.3"/></g><g id="b142"><circle class="b" cx="579" cy="286" r="2.3"/></g><g id="b143"><circle class="b" cx="578" cy="292" r="2.3"/></g><g id="b144"><circle class="b" cx="575" cy="304" r="2.3"/></g><g id="b145"><circle class="b" cx="567" cy="328" r="2.3"/></g><g id="b146"><circle class="b" cx="559" cy="345" r="2.3"/></g><g id="b147"><circle class="b" cx="556" cy="351" r="2.3"/></g><g id="b148"><circle class="b" cx="539" cy="377" r="2.3"/></g><g id="b149"><circle class="b" cx="532" cy="387" r="2.3"/></g>
<g id="b150"><circle class="b" cx="523" cy="396" r="2.3"/></g><g id="b151"><circle class="b" cx="514" cy="405" r="2.3"/></g><g id="b152"><circle class="b" cx="510" cy="409" r="2.3"/></g><g id="b153"><circle class="b" cx="472" cy="438" r="2.3"/></g><g id="b154"><circle class="b" cx="477" cy="434" r="2.3"/></g><g id="b155"><circle class="b" cx="487" cy="428" r="2.3"/></g><g id="b156"><circle class="b" cx="493" cy="424" r="2.3"/></g>
<g id="root"><circle cx="357" cy="243" r="4.8" fill="#fff" stroke="#8a8a8a" stroke-width="1"/><circle class="b" cx="357" cy="243" r="2.5"/></g>
</g>
</svg>
